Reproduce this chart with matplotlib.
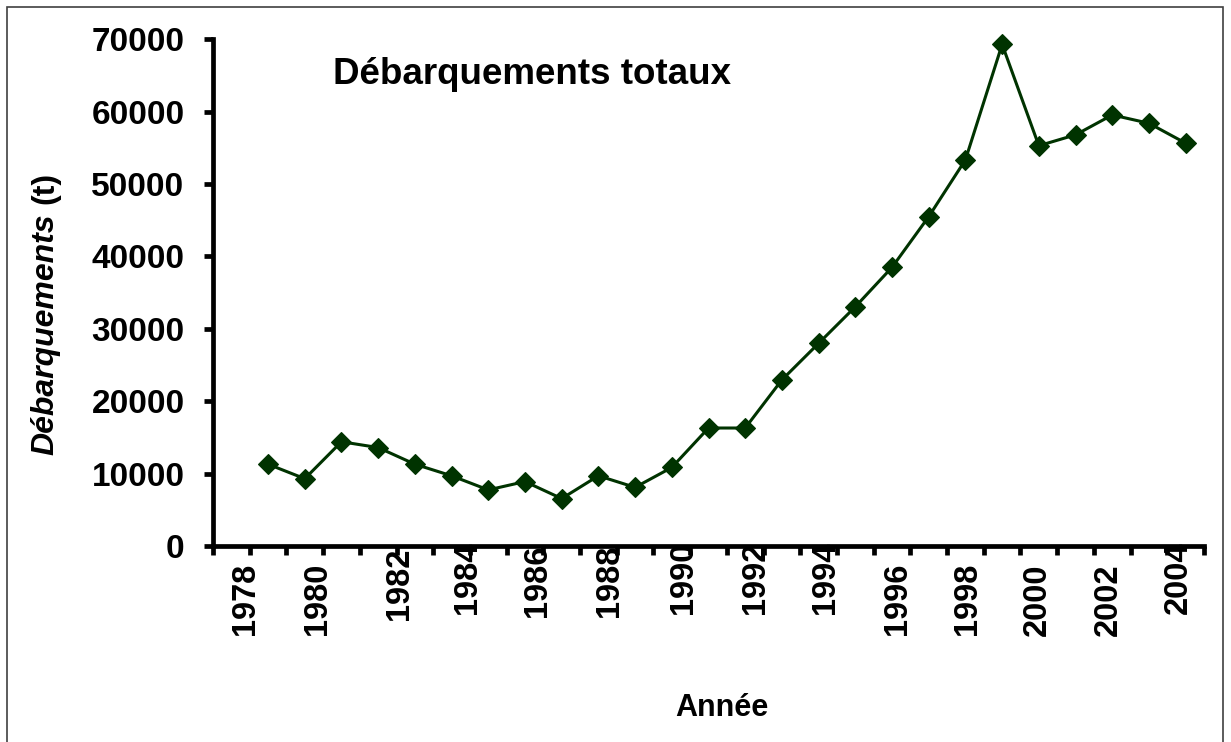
import numpy as np
import matplotlib
matplotlib.use("Agg")
import matplotlib.pyplot as plt
from matplotlib.patches import Rectangle

# ---- data ----
years = list(range(1978, 2005))
landings = [np.nan, 11300, 9300, 14400, 13600, 11300, 9700, 7750, 8900, 6550,
            9700, 8100, 10850, 16300, 16300, 22950, 28000, 33050, 38500, 45500,
            53350, 69300, 55300, 56800, 59550, 58400, 55650]
tick_labels = [str(y) for y in range(1978, 2005, 2)]
title = "Débarquements totaux"
xlabel = "Année"
ylabel_main = "Débarquements"
ylabel_unit = "(t)"

# ---- style ----
W, H = 1231, 742
FONT = "Liberation Sans"
plt.rcParams['font.family'] = [FONT, 'DejaVu Sans']
green = "#003300"

fig = plt.figure(figsize=(W / 100, H / 100), dpi=100)
ax = fig.add_axes([213 / W, 1 - 546 / H, (1204 - 213) / W, (546 - 39.3) / H])

x = np.arange(len(years)) + 0.5
ax.plot(x, landings, color=green, lw=2.2, marker='D', markersize=10.5,
        markerfacecolor=green, markeredgecolor=green, markeredgewidth=0.8,
        clip_on=False, zorder=3)

ax.set_xlim(0, len(years))
ax.set_ylim(0, 70000)
ax.set_yticks(np.arange(0, 70001, 10000))
ax.set_yticklabels([str(v) for v in range(0, 70001, 10000)],
                   fontsize=24, fontweight='bold')
ax.set_xticks(np.arange(0, len(years) + 1))
ax.set_xticklabels([])

for s in ['top', 'right']:
    ax.spines[s].set_visible(False)
for s in ['left', 'bottom']:
    ax.spines[s].set_linewidth(3.4)
    ax.spines[s].set_color('black')
ax.tick_params(axis='both', direction='out', length=6.5, width=3.4, color='black')
ax.tick_params(axis='y', pad=14)

# rotated x labels (positions as drawn in the reference)
label_x_px = [245, 317, 400, 467, 538, 610, 683, 755, 825, 897, 967, 1037, 1108, 1178]
label_top_px = [563, 563, 548, 542, 545, 545, 542, 542, 542, 563, 563, 563, 563, 542]
for lab, xp, yp in zip(tick_labels, label_x_px, label_top_px):
    fig.text(xp / W, 1 - yp / H, lab, rotation=90, ha='center', va='top',
             fontsize=23.5, fontweight='bold')

# title inside plot
fig.text(333 / W, 1 - 75 / H, title, ha='left', va='center',
         fontsize=26.5, fontweight='bold')

# x label
fig.text(722 / W, 1 - 708 / H, xlabel, ha='center', va='center',
         fontsize=22, fontweight='bold')

# y label: italic main + upright unit
fig.text(45 / W, 1 - 334 / H, ylabel_main, rotation=90, ha='center', va='center',
         fontsize=23, fontweight='bold', style='italic')
fig.text(45 / W, 1 - 188 / H, ylabel_unit, rotation=90, ha='center', va='center',
         fontsize=23, fontweight='bold')

# outer frame
fig.patches.append(Rectangle((7 / W, -0.02), (1223 - 7) / W, 1.02 - 7 / H,
                             transform=fig.transFigure, fill=False,
                             edgecolor='#404040', lw=1.2))

fig.savefig("out.png", dpi=100)
